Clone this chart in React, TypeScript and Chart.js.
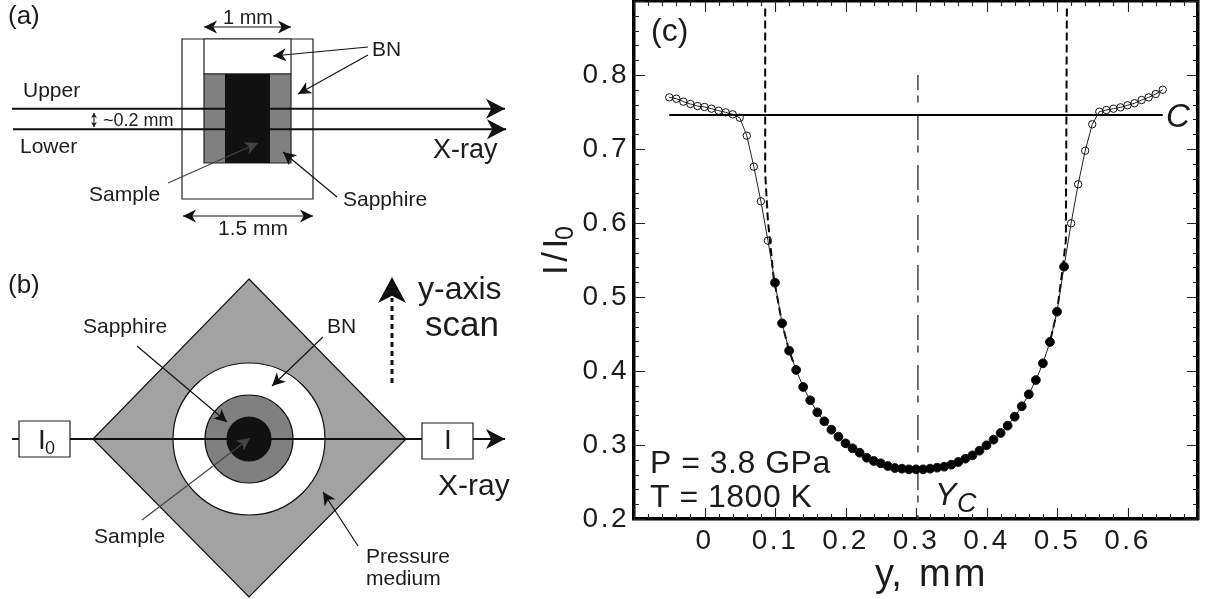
import React, { useEffect, useRef } from "react";
import { Chart, registerables } from "chart.js";

Chart.register(...registerables);

const scanY = [
  -0.05, -0.04, -0.03, -0.02, -0.01, 0, 0.01, 0.02, 0.03, 0.04, 0.05, 0.06, 0.07, 0.08, 0.09,
  0.1, 0.11, 0.12, 0.13, 0.14, 0.15, 0.16, 0.17, 0.18, 0.19, 0.2, 0.21, 0.22, 0.23, 0.24, 0.25,
  0.26, 0.27, 0.28, 0.29, 0.3, 0.31, 0.32, 0.33, 0.34, 0.35, 0.36, 0.37, 0.38, 0.39, 0.4, 0.41,
  0.42, 0.43, 0.44, 0.45, 0.46, 0.47, 0.48, 0.49, 0.5, 0.51,
  0.52, 0.53, 0.54, 0.55, 0.56, 0.57, 0.58, 0.59, 0.6, 0.61, 0.62, 0.63, 0.64, 0.65,
];
const intensity = [
  0.7698, 0.768, 0.764, 0.7608, 0.7581, 0.7568, 0.7545, 0.7518, 0.7496, 0.7469, 0.7423, 0.718,
  0.6761, 0.6293, 0.5761, 0.5193, 0.4644, 0.4275, 0.4014, 0.3784, 0.3604, 0.3442, 0.332, 0.3207,
  0.3112, 0.3023, 0.2955, 0.2896, 0.2828, 0.2784, 0.2753, 0.2716, 0.2689, 0.268, 0.2671, 0.2671,
  0.2671, 0.268, 0.2694, 0.2707, 0.2734, 0.277, 0.2815, 0.286, 0.2923, 0.2996, 0.3072, 0.3162,
  0.3261, 0.3382, 0.3523, 0.3685, 0.3878, 0.4104, 0.4392, 0.4801, 0.541, 0.5996, 0.6523, 0.6977,
  0.7334, 0.7504, 0.7527, 0.7545, 0.7563, 0.7591, 0.7618, 0.7662, 0.7698, 0.7743, 0.7801,
];
const filledFrom = 0.1;
const filledTo = 0.51;

const baselineX = [-0.05, 0.65];
const baselineY = [0.7459, 0.7459];
const centreX = [0.3027, 0.3027];
const centreY = [0.8, 0.2];
const leftEdgeX = [0.0861, 0.0861, 0.0899, 0.0979, 0.11, 0.12, 0.13];
const leftEdgeY = [0.89, 0.6672, 0.604, 0.5274, 0.4644, 0.4275, 0.4014];
const rightEdgeX = [0.514, 0.5126, 0.5084, 0.5, 0.49];
const rightEdgeY = [0.89, 0.577, 0.541, 0.4801, 0.4392];

const FAMILY = '"Liberation Sans", Arial, sans-serif';
const INK = "#1c1c1c";
const MAJOR_TICK = 11;
const MINOR_TICK = 5;

function pairs(xs: number[], ys: number[]) {
  return xs.map((x, i) => ({ x, y: ys[i] }));
}

function axis(
  key: "x" | "y",
  position: string,
  min: number,
  max: number,
  stepSize: number,
  frame: boolean,
  weight: number,
  fit: number,
  labels: boolean,
  callback?: (v: number) => string
) {
  return {
    type: "linear",
    axis: key,
    position,
    min,
    max,
    weight,
    border: frame ? { display: true, width: 3.5, color: "#000" } : { display: false },
    grid: { drawOnChartArea: false, drawTicks: false },
    ticks: {
      display: labels,
      stepSize,
      autoSkip: false,
      maxRotation: 0,
      minRotation: 0,
      padding: 5,
      color: INK,
      font: { family: FAMILY, size: 28 },
      callback,
    },
    afterFit(s: any) {
      if (key === "x") s.height = fit;
      else s.width = fit;
      s.paddingTop = 0;
      s.paddingBottom = 0;
      s.paddingLeft = 0;
      s.paddingRight = 0;
    },
  };
}

function arrowHead(c: CanvasRenderingContext2D, x0: number, y0: number, x1: number, y1: number, len: number, half: number) {
  const a = Math.atan2(y1 - y0, x1 - x0);
  const cos = Math.cos(a);
  const sin = Math.sin(a);
  c.beginPath();
  c.moveTo(x1, y1);
  c.lineTo(x1 - len * cos + half * sin, y1 - len * sin - half * cos);
  c.lineTo(x1 - len * 0.72 * cos, y1 - len * 0.72 * sin);
  c.lineTo(x1 - len * cos - half * sin, y1 - len * sin + half * cos);
  c.closePath();
  c.fill();
}

function arrow(
  c: CanvasRenderingContext2D,
  x0: number,
  y0: number,
  x1: number,
  y1: number,
  len = 13,
  half = 6.5,
  width = 1.2,
  color = "#111",
  both = false
) {
  c.save();
  c.strokeStyle = color;
  c.fillStyle = color;
  c.lineWidth = width;
  c.beginPath();
  c.moveTo(x0, y0);
  c.lineTo(x1, y1);
  c.stroke();
  arrowHead(c, x0, y0, x1, y1, len, half);
  if (both) arrowHead(c, x1, y1, x0, y0, len, half);
  c.restore();
}

function text(c: CanvasRenderingContext2D, s: string, x: number, y: number, size: number, style = "", spacing = "0px") {
  c.font = `${style} ${size}px ${FAMILY}`;
  (c as any).letterSpacing = spacing;
  c.fillStyle = INK;
  c.textAlign = "left";
  c.textBaseline = "alphabetic";
  c.fillText(s, x, y);
  (c as any).letterSpacing = "0px";
}

function box(c: CanvasRenderingContext2D, x0: number, y0: number, x1: number, y1: number, fill: string | null, stroke = "#222", width = 1.2) {
  c.beginPath();
  c.rect(x0, y0, x1 - x0, y1 - y0);
  if (fill) {
    c.fillStyle = fill;
    c.fill();
  }
  c.lineWidth = width;
  c.strokeStyle = stroke;
  c.stroke();
}

function disc(c: CanvasRenderingContext2D, x: number, y: number, r: number, fill: string) {
  c.beginPath();
  c.arc(x, y, r, 0, Math.PI * 2);
  c.fillStyle = fill;
  c.fill();
  c.lineWidth = 1.2;
  c.strokeStyle = "#111";
  c.stroke();
}

function panelA(c: CanvasRenderingContext2D) {
  box(c, 182, 39, 313, 199, "#fff");
  box(c, 204, 39, 291, 74, "#fff");
  box(c, 204, 74, 291, 163, "#808080");
  c.fillStyle = "#111";
  c.fillRect(225, 74, 45, 89);

  arrow(c, 12, 108.7, 505, 108.7, 19, 10, 2);
  arrow(c, 13, 129.3, 506, 129.3, 19, 10, 2);
  arrow(c, 94, 113, 94, 127, 5, 3, 1, "#111", true);
  arrow(c, 204, 27, 291, 27, 13, 6.5, 1.2, "#111", true);
  arrow(c, 183, 216, 313, 216, 13, 6.5, 1.2, "#111", true);
  arrow(c, 368, 47, 273, 56);
  arrow(c, 368, 55, 298, 94);
  arrow(c, 168, 183, 258, 143, 13, 6.5, 1.2, "#444");
  arrow(c, 337, 197, 283, 152);

  text(c, "(a)", 8, 24, 26);
  text(c, "1 mm", 223, 24, 20);
  text(c, "BN", 372, 56, 21);
  text(c, "Upper", 23, 97, 21);
  text(c, "~0.2 mm", 103, 126, 18);
  text(c, "Lower", 20, 153, 21);
  text(c, "X-ray", 433, 158, 27);
  text(c, "Sample", 89, 201, 21);
  text(c, "Sapphire", 343, 206, 21);
  text(c, "1.5 mm", 218, 235, 21);
}

function panelB(c: CanvasRenderingContext2D) {
  c.beginPath();
  c.moveTo(249, 279);
  c.lineTo(406, 439);
  c.lineTo(249, 597);
  c.lineTo(93, 439);
  c.closePath();
  c.fillStyle = "#a2a2a2";
  c.fill();
  c.lineWidth = 1.2;
  c.strokeStyle = "#111";
  c.stroke();

  disc(c, 249, 439, 76, "#fff");
  disc(c, 249, 439, 44, "#808080");
  disc(c, 249, 439, 22, "#111");

  arrow(c, 12, 439, 505, 439, 19, 10, 2);
  box(c, 19, 421, 70, 457, "#fff");
  box(c, 422, 423, 473, 459, "#fff");
  text(c, "I", 38, 449, 28);
  text(c, "0", 45, 454, 18);
  text(c, "I", 444, 449, 28);

  arrow(c, 137, 346, 227, 422);
  arrow(c, 323, 337, 272, 386);
  arrow(c, 142, 520, 250, 438, 13, 6.5, 1.2, "#444");
  arrow(c, 358, 546, 323, 492);

  c.save();
  c.setLineDash([5, 4]);
  c.lineWidth = 3;
  c.strokeStyle = "#111";
  c.beginPath();
  c.moveTo(392, 383);
  c.lineTo(392, 298);
  c.stroke();
  c.restore();
  c.fillStyle = "#111";
  arrowHead(c, 392, 383, 392, 277, 26, 14);

  text(c, "(b)", 8, 293, 26);
  text(c, "y-axis", 418, 299, 32);
  text(c, "scan", 425, 336, 35);
  text(c, "Sapphire", 83, 333, 21);
  text(c, "BN", 327, 333, 21);
  text(c, "X-ray", 438, 495, 30);
  text(c, "Sample", 94, 543, 21);
  text(c, "Pressure", 366, 563, 21);
  text(c, "medium", 366, 585, 21);
}

function panelCText(c: CanvasRenderingContext2D) {
  text(c, "(c)", 651, 41, 32);
  text(c, "C", 1166, 127, 33, "italic");
  text(c, "P = 3.8 GPa", 650, 473, 32, "", "0.5px");
  text(c, "T = 1800 K", 650, 507, 32, "", "0.5px");
  text(c, "Y", 935, 505, 32, "italic");
  text(c, "C", 957, 512, 27, "italic");
  text(c, "y,", 875, 586, 38);
  text(c, "mm", 919, 586, 38, "", "3px");
  c.save();
  c.translate(567, 275);
  c.rotate(-Math.PI / 2);
  text(c, "I/I", 0, 0, 35, "", "3.5px");
  text(c, "0", 35, 6, 25);
  c.restore();
}

function drawTicks(chart: any, c: CanvasRenderingContext2D) {
  const a = chart.chartArea;
  const sets: [string, number][] = [
    ["x", MAJOR_TICK],
    ["xMinor", MINOR_TICK],
    ["xTop", MAJOR_TICK],
    ["xTopMinor", MINOR_TICK],
    ["y", MAJOR_TICK],
    ["yMinor", MINOR_TICK],
    ["yRight", MAJOR_TICK],
    ["yRightMinor", MINOR_TICK],
  ];
  c.save();
  c.strokeStyle = "#222";
  c.lineWidth = 1.1;
  c.beginPath();
  for (const [id, len] of sets) {
    const s = chart.scales[id];
    for (const t of s.ticks) {
      const p = Math.round(s.getPixelForValue(t.value)) + 0.5;
      if (s.position === "bottom") {
        c.moveTo(p, a.bottom);
        c.lineTo(p, a.bottom - len);
      } else if (s.position === "top") {
        c.moveTo(p, a.top);
        c.lineTo(p, a.top + len);
      } else if (s.position === "left") {
        c.moveTo(a.left, p);
        c.lineTo(a.left + len, p);
      } else {
        c.moveTo(a.right, p);
        c.lineTo(a.right - len, p);
      }
    }
  }
  c.stroke();
  c.restore();
}

const page = {
  id: "schematics",
  beforeDraw(chart: any) {
    (chart.ctx as any).letterSpacing = "2.5px";
  },
  afterDraw(chart: any) {
    const c = chart.ctx as CanvasRenderingContext2D;
    c.save();
    (c as any).letterSpacing = "0px";
    drawTicks(chart, c);
    panelA(c);
    panelB(c);
    panelCText(c);
    c.restore();
  },
};

export default function App() {
  const ref = useRef<HTMLCanvasElement>(null);
  useEffect(() => {
    const isFilled = (x: number) => x >= filledFrom && x <= filledTo;
    const xLabel = (v: number) => {
      const r = Math.round(v * 10) / 10;
      if (r < 0 || r > 0.6) return "";
      return r === 0 ? "0" : r.toFixed(1);
    };
    const yLabel = (v: number) => {
      const r = Math.round(v * 10) / 10;
      return r > 0.8 ? "" : r.toFixed(1);
    };
    const chart = new Chart(ref.current as HTMLCanvasElement, {
      type: "line",
      data: {
        datasets: [
          {
            data: pairs(scanY, intensity),
            borderColor: "#222",
            borderWidth: 1,
            tension: 0,
            pointRadius: (ctx: any) => (isFilled(scanY[ctx.dataIndex]) ? 4.4 : 3.7),
            pointBackgroundColor: (ctx: any) => (isFilled(scanY[ctx.dataIndex]) ? "#000" : "rgba(0,0,0,0)"),
            pointBorderColor: "#111",
            pointBorderWidth: 1,
          },
          { data: pairs(baselineX, baselineY), borderColor: "#000", borderWidth: 2, pointRadius: 0 },
          {
            data: pairs(centreX, centreY),
            borderColor: "#444",
            borderWidth: 1.5,
            borderDash: [25, 5.5, 7, 12.5],
            borderDashOffset: 10,
            pointRadius: 0,
          },
          { data: pairs(leftEdgeX, leftEdgeY), borderColor: "#000", borderWidth: 2, borderDash: [8, 4], pointRadius: 0 },
          { data: pairs(rightEdgeX, rightEdgeY), borderColor: "#000", borderWidth: 2, borderDash: [8, 4], pointRadius: 0 },
        ],
      } as any,
      options: {
        animation: false,
        responsive: false,
        events: [],
        layout: { autoPadding: false, padding: { left: 0, top: 1, right: 7, bottom: 0 } },
        plugins: { legend: { display: false }, tooltip: { enabled: false }, title: { display: false } },
        scales: {
          x: axis("x", "bottom", -0.1, 0.7, 0.1, true, 1, 80, true, xLabel),
          xMinor: axis("x", "bottom", -0.1, 0.7, 0.02, false, 0, 0, false),
          xTop: axis("x", "top", -0.1, 0.7, 0.1, true, 1, 0, false),
          xTopMinor: axis("x", "top", -0.1, 0.7, 0.02, false, 0, 0, false),
          y: axis("y", "left", 0.2, 0.9, 0.1, true, 1, 634, true, yLabel),
          yMinor: axis("y", "left", 0.2, 0.9, 0.02, false, 0, 0, false),
          yRight: axis("y", "right", 0.2, 0.9, 0.1, true, 1, 0, false),
          yRightMinor: axis("y", "right", 0.2, 0.9, 0.02, false, 0, 0, false),
        },
      } as any,
      plugins: [page],
    });
    return () => chart.destroy();
  }, []);
  return (
    <div style={{ position: "absolute", left: 0, top: 0, width: 1205, height: 599, background: "#fff" }}>
      <canvas ref={ref} width={1205} height={599} style={{ display: "block" }} />
    </div>
  );
}
